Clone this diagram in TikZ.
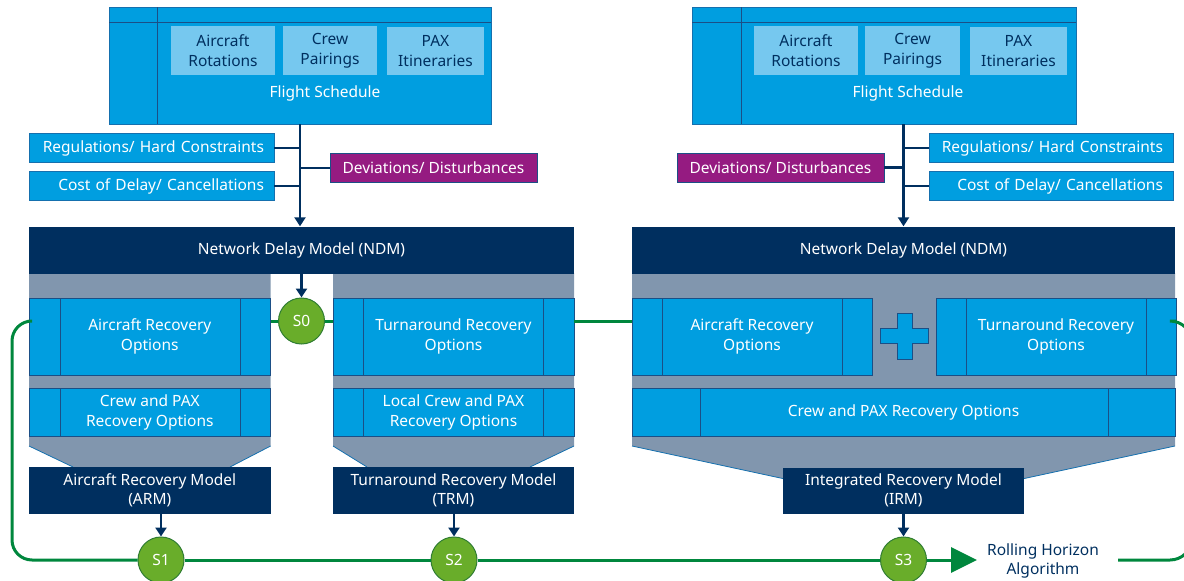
\documentclass[tikz,border=0pt]{standalone}
\usepackage{fontspec}
\setmainfont{Noto Sans}
\usetikzlibrary{arrows.meta}
\definecolor{cblue}{HTML}{009EE0}
\definecolor{clight}{HTML}{76C8EF}
\definecolor{cnavy}{HTML}{002F5F}
\definecolor{cgray}{HTML}{8196AE}
\definecolor{cpurple}{HTML}{951B81}
\definecolor{cgreen}{HTML}{00873D}
\definecolor{cgreenfill}{HTML}{69AD2A}
\definecolor{cgreendark}{HTML}{2F7D32}
\definecolor{segline}{HTML}{1B4F86}
\definecolor{boxline}{HTML}{1570AE}
\begin{document}
\begin{tikzpicture}[x=1pt,y=-1pt,
  every node/.style={font=\fontsize{15.5}{19.5}\selectfont, inner sep=0pt},
  bluebox/.style={draw=boxline, line width=0.8pt, fill=cblue, text=white, align=center},
  segbox/.style={draw=segline, line width=0.9pt, fill=cblue, text=white, align=center},
  lightbox/.style={fill=clight, text=cnavy, align=center},
  navybox/.style={fill=cnavy, text=white, align=center},
  purplebox/.style={draw=segline, line width=0.6pt, fill=cpurple, text=white, align=center},
  rightbox/.style={bluebox, text width=225pt, inner xsep=10pt, align=right},
  seg/.style={draw=segline, line width=0.9pt},
  trunk/.style={draw=cnavy, line width=2.4pt},
  trunkarrow/.style={trunk, -{Triangle[length=9pt,width=11pt]}},
  loop/.style={draw=cgreen, line width=3pt},
  state/.style={circle, minimum size=46pt, fill=cgreenfill, draw=cgreendark, line width=1pt, text=white},
  diag/.style={draw=boxline, line width=0.8pt},
]
\useasboundingbox (0,0) rectangle (1184,581);

% ---------- Flight schedule boxes ----------
\node[bluebox, minimum width=382pt, minimum height=117pt] (fsL) at (300,65.5) {};
\draw[seg] (109,22) -- (491,22) (157,7) -- (157,124);
\node[lightbox, minimum width=104pt, minimum height=49pt] (arL) at (223,50.5) {Aircraft\\Rotations};
\node[lightbox, minimum width=94pt, minimum height=49pt] (cpL) at (330,50.5) {Crew\\Pairings};
\node[lightbox, minimum width=97pt, minimum height=48pt] (pxL) at (435.5,51) {PAX\\Itineraries};
\node[text=white] (fstL) at (325,93) {Flight Schedule};

\node[bluebox, minimum width=384pt, minimum height=117pt] (fsR) at (884,65.5) {};
\draw[seg] (692,22) -- (1076,22) (741,7) -- (741,124);
\node[lightbox, minimum width=104pt, minimum height=49pt] (arR) at (806,50.5) {Aircraft\\Rotations};
\node[lightbox, minimum width=95pt, minimum height=49pt] (cpR) at (912.5,50.5) {Crew\\Pairings};
\node[lightbox, minimum width=97pt, minimum height=48pt] (pxR) at (1018.5,51) {PAX\\Itineraries};
\node[text=white] (fstR) at (908,93) {Flight Schedule};

% ---------- constraint boxes ----------
\node[rightbox, minimum height=29pt] (regL) at (151.5,148) {Regulations/ Hard Constraints};
\node[rightbox, minimum height=29pt] (costL) at (151.5,186) {Cost of Delay/ Cancellations};
\node[purplebox, minimum width=207pt, minimum height=29pt] (devL) at (433.5,168) {Deviations/ Disturbances};

\node[rightbox, text width=224pt, minimum height=29pt] (regR) at (1051,148) {Regulations/ Hard Constraints};
\node[rightbox, text width=224pt, minimum height=29pt] (costR) at (1051,186) {Cost of Delay/ Cancellations};
\node[purplebox, minimum width=207pt, minimum height=29pt] (devR) at (780.5,167.5) {Deviations/ Disturbances};

% ---------- gray backgrounds ----------
\fill[cgray] (29,273) -- (270.6,273) -- (270.6,446) -- (230,467) -- (73,467) -- (29,446) -- cycle;
\draw[diag] (29,446) -- (73,467) (270.6,446) -- (230,467);
\fill[cgray] (333,273) -- (574,273) -- (574,446) -- (530,467) -- (367,467) -- (333,446) -- cycle;
\draw[diag] (333,446) -- (367,467) (574,446) -- (530,467);
\fill[cgray] (632,273) -- (1175,273) -- (1175,446) -- (1022,479) -- (785,479) -- (632,446) -- cycle;
\draw[diag] (632,446) -- (785,479) (1175,446) -- (1022,479);

% ---------- NDM bars ----------
\node[navybox, minimum width=545pt, minimum height=47pt] (ndmL) at (301.5,250) {Network Delay Model (NDM)};
\node[navybox, minimum width=543pt, minimum height=47pt] (ndmR) at (903.5,250) {Network Delay Model (NDM)};

% ---------- option boxes, left group ----------
\node[segbox, minimum width=241.6pt, minimum height=77pt] (aroL) at (149.8,336.5) {Aircraft Recovery\\Options};
\draw[seg] (60,298) -- (60,375) (240,298) -- (240,375);
\node[segbox, minimum width=241.6pt, minimum height=48pt] (cpxL) at (149.8,412.5) {Crew and PAX\\Recovery Options};
\draw[seg] (60,388.5) -- (60,436.5) (240,388.5) -- (240,436.5);
\node[navybox, minimum width=241.6pt, minimum height=47pt] (arm) at (149.8,490.5) {Aircraft Recovery Model\\(ARM)};

\node[segbox, minimum width=241pt, minimum height=77pt] (troL) at (453.5,336.5) {Turnaround Recovery\\Options};
\draw[seg] (363.6,298) -- (363.6,375) (543.5,298) -- (543.5,375);
\node[segbox, minimum width=241pt, minimum height=48pt] (lcpx) at (453.5,412.5) {Local Crew and PAX\\Recovery Options};
\draw[seg] (363.6,388.5) -- (363.6,436.5) (543.5,388.5) -- (543.5,436.5);
\node[navybox, minimum width=241pt, minimum height=47pt] (trm) at (453.5,490.5) {Turnaround Recovery Model\\(TRM)};

% ---------- option boxes, right group ----------
\node[segbox, minimum width=240pt, minimum height=77pt] (aroR) at (752,336.5) {Aircraft Recovery\\Options};
\draw[seg] (662,298) -- (662,375) (842,298) -- (842,375);
\node[segbox, minimum width=240pt, minimum height=77pt] (troR) at (1056,336.5) {Turnaround Recovery\\Options};
\draw[seg] (966,298) -- (966,375) (1146,298) -- (1146,375);
\node[segbox, minimum width=543pt, minimum height=48pt] (cpxR) at (903.5,412.5) {Crew and PAX Recovery Options};
\draw[seg] (700,388.5) -- (700,436.5) (1108,388.5) -- (1108,436.5);
\node[navybox, minimum width=241pt, minimum height=46pt] (irm) at (903.5,490.5) {Integrated Recovery Model\\(IRM)};
\draw[seg, fill=cblue] (897,313) -- (912,313) -- (912,328) -- (928.5,328) -- (928.5,343) -- (912,343) -- (912,359) -- (897,359) -- (897,343) -- (880.5,343) -- (880.5,328) -- (897,328) -- cycle;

% ---------- trunks ----------
\draw[trunk] (regL.east) -- (regL.east -| fsL.south);
\draw[trunk] (costL.east) -- (costL.east -| fsL.south);
\draw[trunk] (devL.west) -- (devL.west -| fsL.south);
\draw[trunkarrow] (fsL.south) -- (fsL.south |- ndmL.north);

\draw[trunk] (regR.west) -- (regR.west -| ndmR.north);
\draw[trunk] (costR.west) -- (costR.west -| ndmR.north);
\draw[trunk] (devR.east) -- (devR.east -| ndmR.north);
\draw[trunkarrow] (fsR.south -| ndmR.north) -- (ndmR.north);

% ---------- states ----------
\node[state] (s0) at (301.5,321) {S0};
\node[state] (s1) at (161,560) {S1};
\node[state] (s2) at (454,560) {S2};
\node[state] (s3) at (903.5,560) {S3};
\node[text=cnavy, align=center] (rha) at (1043,561) {Rolling Horizon\\Algorithm};
\coordinate (tip) at (977,560);

% ---------- green loop ----------
\draw[loop] (s0.west) -- (s0.west -| aroL.east);
\draw[loop] (s0.east) -- (s0.east -| troL.west);
\draw[loop] (troL.east |- s0) -- (aroR.west |- s0);
\draw[loop, rounded corners=20pt] (aroL.west |- s0) -- (12,321) -- (12,560) -- (s1.west);
\draw[loop] (s1.east) -- (s2.west);
\draw[loop] (s2.east) -- (s3.west);
\draw[loop, -{Triangle[length=26pt,width=25pt]}] (s3.east) -- (tip);
\draw[loop, rounded corners=22pt] (1118,560) -- (1192,560) -- (1192,321) -- (troR.east |- s0);

% ---------- model to state arrows ----------
\draw[trunkarrow] (ndmL.south -| s0.north) -- (s0.north);
\draw[trunkarrow] (arm.south -| s1.north) -- (s1.north);
\draw[trunkarrow] (trm.south -| s2.north) -- (s2.north);
\draw[trunkarrow] (irm.south -| s3.north) -- (s3.north);
\end{tikzpicture}
\end{document}
